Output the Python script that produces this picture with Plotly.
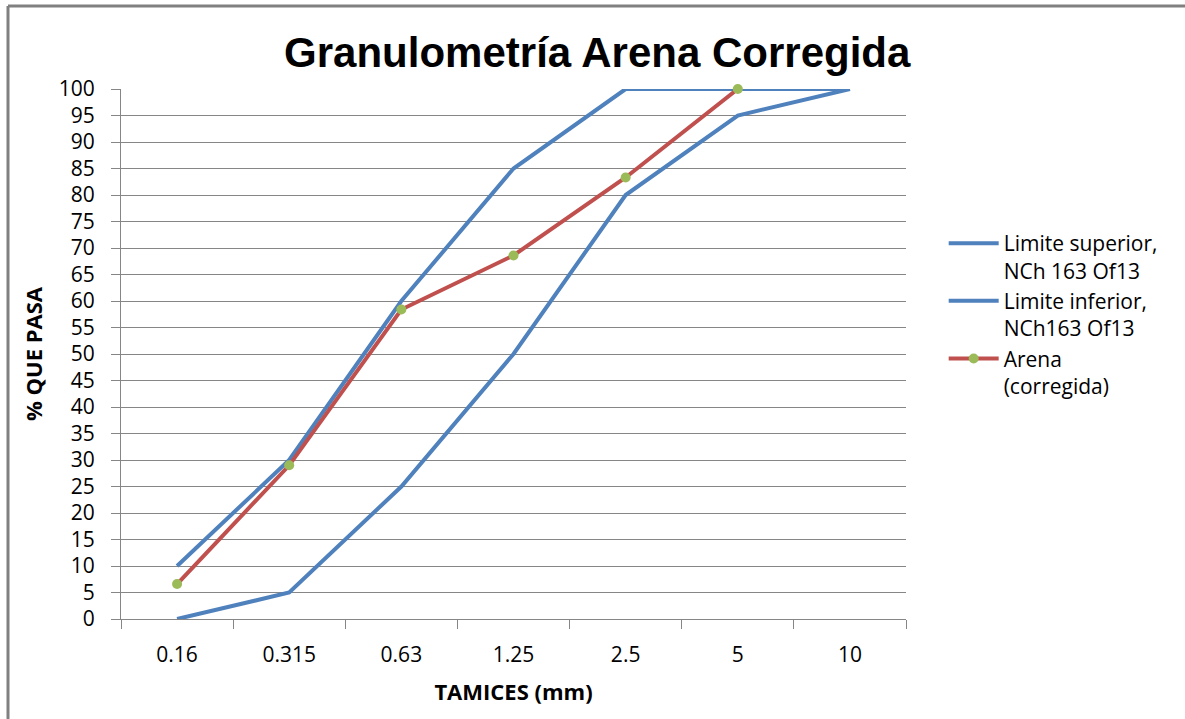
import plotly.graph_objects as go

tamices = ["0.16", "0.315", "0.63", "1.25", "2.5", "5", "10"]
limite_superior = [10, 30, 60, 85, 100, 100, 100]
limite_inferior = [0, 5, 25, 50, 80, 95, 100]
arena_x = ["0.16", "0.315", "0.63", "1.25", "2.5", "5"]
arena = [6.6, 29, 58.4, 68.6, 83.3, 100]

blue = "#4F81BD"
red = "#C0504D"
green = "#9BBB59"
grid = "#868686"

fig = go.Figure()
fig.add_trace(go.Scatter(x=tamices, y=limite_superior, mode="lines",
                         name="Limite superior,<br>NCh 163 Of13",
                         line=dict(color=blue, width=4)))
fig.add_trace(go.Scatter(x=tamices, y=limite_inferior, mode="lines",
                         name="Limite inferior,<br>NCh163 Of13",
                         line=dict(color=blue, width=4)))
fig.add_trace(go.Scatter(x=arena_x, y=arena, mode="lines+markers",
                         name="Arena<br>(corregida)",
                         line=dict(color=red, width=4),
                         marker=dict(color=green, size=10), cliponaxis=False))

fig.update_layout(
    width=1185, height=719,
    margin=dict(l=121, r=279, t=89, b=100),
    paper_bgcolor="white", plot_bgcolor="white",
    font=dict(family="Open Sans, Liberation Sans, sans-serif", size=21, color="black"),
    title=dict(text="<b>Granulometría Arena Corregida</b>", x=0.504, xanchor="center",
               y=0.927, yanchor="middle",
               font=dict(family="Liberation Sans, Arial, sans-serif", size=42, color="black")),
    showlegend=True,
    legend=dict(x=1.048, y=0.747, xanchor="left", yanchor="top", valign="top",
                font=dict(size=21), tracegroupgap=0, itemwidth=50,
                bgcolor="rgba(0,0,0,0)"),
)
fig.update_xaxes(type="category", range=[-0.5, 6.5], showgrid=False,
                 showline=True, linecolor=grid, linewidth=1,
                 ticks="outside", ticklen=9, tickcolor=grid, tickson="boundaries",
                 ticklabelstandoff=17,
                 title=dict(text="<b>TAMICES (mm)</b>", font=dict(size=22), standoff=17),
                 tickfont=dict(size=21))
fig.update_yaxes(range=[0, 100], dtick=5, showgrid=True, gridcolor=grid, gridwidth=1,
                 showline=True, linecolor=grid, linewidth=1,
                 ticks="outside", ticklen=9, tickcolor=grid, zeroline=False,
                 ticklabelstandoff=12,
                 title=dict(text="<b>% QUE PASA</b>", font=dict(size=22), standoff=10),
                 tickfont=dict(size=21))

# outer chart border (top and left visible)
fig.add_shape(type="line", xref="paper", yref="paper",
              x0=-113/785, x1=1.5, y0=1+83/530, y1=1+83/530,
              line=dict(color="#808080", width=3))
fig.add_shape(type="line", xref="paper", yref="paper",
              x0=-113/785, x1=-113/785, y0=1+83/530, y1=-0.3,
              line=dict(color="#808080", width=3))

fig.write_html("out.html")
